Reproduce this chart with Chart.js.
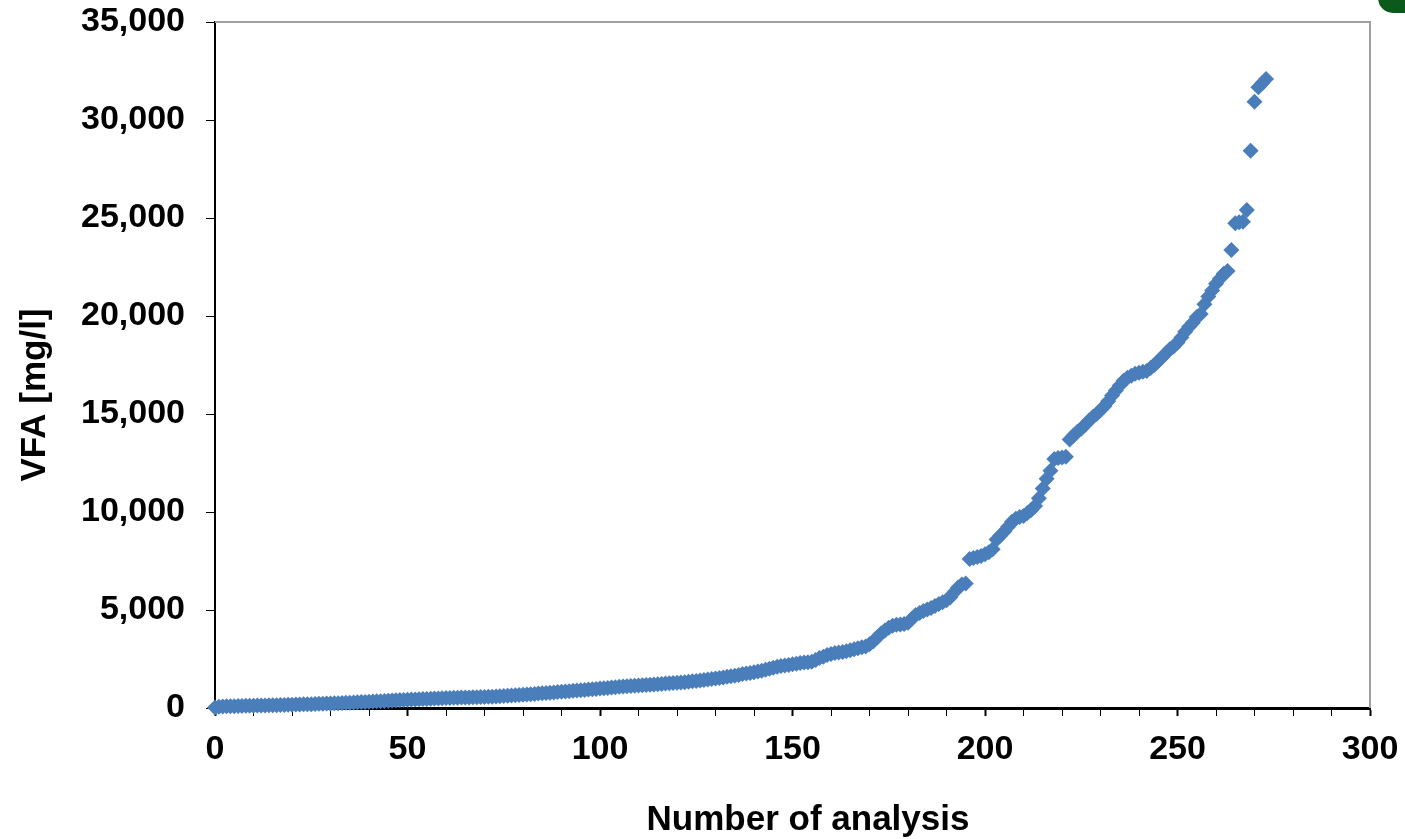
<!DOCTYPE html>
<html lang="en">
<head>
    <meta charset="UTF-8">
    <title>VFA [mg/l]</title>
    <script src="https://cdn.jsdelivr.net/npm/chart.js"></script>
    <style>
        body {
            margin: 0;
            background: #fff;
            overflow: hidden;
        }
        #wrap {
            position: relative;
            width: 1405px;
            height: 839px;
        }
        #badge {
            position: absolute;
            left: 1378px;
            top: -22px;
            width: 50px;
            height: 35px;
            border-radius: 15px;
            background: #0c5a1b;
        }
    </style>
</head>
<body>
<div id="wrap">
    <canvas id="vfaChart" width="1405" height="839"></canvas>
    <div id="badge"></div>
</div>
<script>
    // VFA per analysis, sorted (index = number of analysis)
    const vfaValues = [
        30, 60, 75, 85, 90, 95, 100, 105, 110, 115,
        120, 125, 128, 132, 135, 140, 145, 150, 158, 165,
        170, 175, 180, 185, 190, 196, 205, 212, 220, 228,
        235, 240, 248, 255, 262, 270, 280, 290, 300, 310,
        320, 330, 340, 350, 360, 372, 385, 395, 405, 412,
        420, 428, 435, 445, 455, 462, 470, 480, 490, 500,
        510, 515, 520, 525, 530, 535, 540, 545, 550, 555,
        560, 570, 580, 590, 600, 612, 625, 640, 655, 668,
        680, 692, 705, 720, 735, 750, 765, 780, 795, 812,
        830, 845, 860, 875, 890, 905, 920, 940, 958, 975,
        990, 1005, 1020, 1040, 1060, 1080, 1095, 1110, 1125, 1140,
        1150, 1160, 1170, 1180, 1195, 1210, 1225, 1245, 1260, 1275,
        1290, 1305, 1320, 1340, 1360, 1380, 1400, 1425, 1450, 1475,
        1500, 1530, 1560, 1590, 1620, 1650, 1690, 1730, 1760, 1790,
        1820, 1860, 1900, 1950, 2000, 2050, 2100, 2140, 2170, 2200,
        2230, 2260, 2290, 2320, 2340, 2360, 2450, 2550, 2620, 2700,
        2750, 2800, 2830, 2860, 2900, 2950, 3000, 3050, 3100, 3140,
        3250, 3400, 3600, 3800, 3950, 4100, 4200, 4250, 4260, 4280,
        4350, 4550, 4750, 4850, 4950, 5020, 5100, 5200, 5300, 5400,
        5500, 5650, 5900, 6150, 6300, 6350, 7600, 7650, 7700, 7750,
        7850, 7950, 8100, 8600, 8800, 9000, 9250, 9500, 9650, 9750,
        9800, 9950, 10100, 10300, 10700, 11200, 11700, 12100, 12700, 12750,
        12780, 12820, 13700, 13900, 14100, 14250, 14450, 14650, 14850, 15000,
        15200, 15400, 15650, 15950, 16200, 16450, 16700, 16850, 16950, 17050,
        17100, 17150, 17200, 17350, 17500, 17700, 17900, 18100, 18300, 18450,
        18650, 18900, 19200, 19450, 19650, 19950, 20100, 20600, 21000, 21300,
        21650, 21900, 22150, 22300, 23370, 24730, 24780, 24810, 25410, 28430,
        30930, 31670, 31880, 32090
    ];

    const xLabels = [0, 50, 100, 150, 200, 250, 300];
    const xMinorTicks = [0, 10, 20, 30, 40, 50, 60, 70, 80, 90, 100, 110, 120, 130, 140, 150,
        160, 170, 180, 190, 200, 210, 220, 230, 240, 250, 260, 270, 280, 290, 300];
    const yLabels = [0, 5000, 10000, 15000, 20000, 25000, 30000, 35000];

    const xTitle = 'Number of analysis';
    const yTitle = 'VFA [mg/l]';

    const FONT = 'Arial, "Liberation Sans", sans-serif';
    const BLUE = '#4a7ebb';

    // grey frame on top/right and the two axis titles
    const framePlugin = {
        id: 'frame',
        afterDraw(chart) {
            const {ctx, chartArea: a} = chart;
            ctx.save();
            ctx.strokeStyle = '#a0a0a0';
            ctx.lineWidth = 2;
            ctx.beginPath();
            ctx.moveTo(a.left, a.top);
            ctx.lineTo(a.right, a.top);
            ctx.lineTo(a.right, a.bottom);
            ctx.stroke();

            ctx.fillStyle = '#000';
            ctx.font = 'bold 35px ' + FONT;
            ctx.textAlign = 'center';
            ctx.textBaseline = 'alphabetic';
            ctx.fillText(xTitle, 808, 830);
            ctx.translate(45, 395);
            ctx.rotate(-Math.PI / 2);
            ctx.fillText(yTitle, 0, 0);
            ctx.restore();
        }
    };

    new Chart(document.getElementById('vfaChart'), {
        type: 'scatter',
        data: {
            datasets: [{
                data: vfaValues.map((v, i) => ({x: i, y: v})),
                pointStyle: 'rectRot',
                pointRadius: 8,
                pointHoverRadius: 8,
                backgroundColor: BLUE,
                borderColor: BLUE,
                borderWidth: 0,
                clip: false
            }]
        },
        options: {
            responsive: false,
            animation: false,
            events: [],
            layout: {
                padding: {left: 0, top: 22, right: 35, bottom: 0}
            },
            plugins: {
                legend: {display: false},
                tooltip: {enabled: false}
            },
            scales: {
                x: {
                    type: 'linear',
                    position: 'bottom',
                    min: 0,
                    max: 300,
                    afterBuildTicks: s => { s.ticks = xMinorTicks.map(v => ({value: v})); },
                    afterFit: s => {
                        s.height = 131;
                        s.paddingLeft = 0;
                        s.paddingRight = 0;
                    },
                    border: {color: '#000', width: 3},
                    grid: {
                        drawOnChartArea: false,
                        color: '#000',
                        tickLength: 8,
                        tickWidth: c => (c.tick && xLabels.includes(c.tick.value) ? 2 : 1)
                    },
                    ticks: {
                        autoSkip: false,
                        maxRotation: 0,
                        padding: 13,
                        color: '#000',
                        font: {family: FONT, size: 34, weight: 'bold'},
                        callback: v => (xLabels.includes(v) ? String(v) : '')
                    }
                },
                y: {
                    min: 0,
                    max: 35000,
                    afterBuildTicks: s => { s.ticks = yLabels.map(v => ({value: v})); },
                    afterFit: s => {
                        s.width = 215;
                        s.paddingTop = 0;
                        s.paddingBottom = 0;
                    },
                    border: {color: '#000', width: 2},
                    grid: {
                        drawOnChartArea: false,
                        color: '#000',
                        tickLength: 9,
                        tickWidth: 1
                    },
                    ticks: {
                        padding: 21,
                        color: '#000',
                        font: {family: FONT, size: 34, weight: 'bold'},
                        callback: v => v.toLocaleString('en-US')
                    }
                }
            }
        },
        plugins: [framePlugin]
    });
</script>
</body>
</html>
